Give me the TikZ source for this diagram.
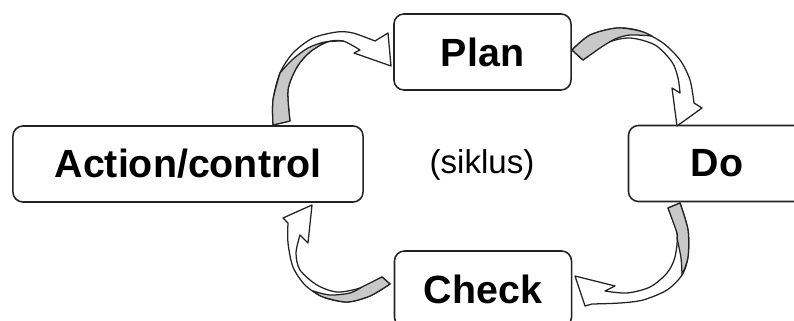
\documentclass[tikz,border=0pt]{standalone}
\usepackage[rgb]{xcolor}
\usepackage{fontspec}
\setmainfont{Liberation Sans}
\usepackage{tikz}
\definecolor{bandgray}{RGB}{200,200,200}
\definecolor{edgegray}{RGB}{35,35,35}

\begin{document}
\begin{tikzpicture}[x=0.025cm, y=-0.025cm,
  box/.style={draw=edgegray, line width=1.1pt, rounded corners=0.25cm, fill=white,
    minimum width=4.425cm, minimum height=1.9cm, inner sep=0pt,
    font=\bfseries\fontsize{28}{30}\selectfont},
  band/.style={draw=edgegray, line width=0.9pt, fill=white, line join=round},
  shade/.style={draw=edgegray, line width=0.9pt, fill=bandgray, line join=round}]

\useasboundingbox (0,0) rectangle (794,321);
\clip (0,0) rectangle (794,321);

\path
(482.5,52) node[box](plan) {Plan}
(717,163.5) node[box](do) {Do}
(188,164) node[box, minimum width=8.75cm](action) {Action/control}
(483,289) node[box](check) {Check}
(482,165) node[font=\fontsize{23.5}{26}\selectfont](siklus) {(siklus)};

%% curved arrow from Action/control up to Plan
\filldraw[band] plot[smooth] coordinates {(273,125) (273,100) (280,73) (293,53) (313,38) (337,32) (353,33) (375,41)}
 -- (388,33) -- (391,66) -- (354,53)
 -- plot[smooth] coordinates {(360,50) (343,41) (327,42) (310,52) (297,67) (288,90) (290,121)} -- cycle;
\filldraw[shade] plot[smooth] coordinates {(273,125) (273,100) (280,73)}
 -- plot[smooth] coordinates {(280,73) (292,60) (308,48) (325,42) (343,41)}
 -- plot[smooth] coordinates {(343,41) (327,42) (310,52) (297,67) (288,90) (290,121)} -- cycle;

%% curved arrow from Plan down to Do
\filldraw[band] plot[smooth] coordinates {(572,50) (590,35) (617,28) (640,31) (663,43) (680,60) (690,80) (694,103)}
 -- (702,108) -- (677,126) -- (672,88)
 -- plot[smooth] coordinates {(680,93) (678,78) (672,62) (655,45) (630,38) (607,43) (583,60)} -- cycle;
\filldraw[shade] plot[smooth] coordinates {(572,50) (590,35) (617,28) (640,31) (652,36)}
 -- plot[smooth] coordinates {(652,36) (630,35) (615,39) (600,48)}
 -- (583,60) -- cycle;

%% curved arrow from Do down to Check
\filldraw[band] plot[smooth] coordinates {(680,203) (688,230) (688,257) (682,275) (667,290) (643,300) (620,303) (592,304)}
 -- (585,306) -- (575,276) -- (615,286)
 -- plot[smooth] coordinates {(605,291) (627,293) (650,287) (667,273) (675,257) (677,233) (668,208)} -- cycle;
\filldraw[shade] plot[smooth] coordinates {(680,203) (688,230) (688,257) (682,275)}
 -- plot[smooth] coordinates {(682,275) (681,258) (677,238)}
 -- plot[smooth] coordinates {(677,238) (677,233) (668,208)} -- cycle;

%% curved arrow from Check back to Action/control
\filldraw[band] plot[smooth] coordinates {(390,284) (370,296) (347,302) (323,297) (305,285) (293,267) (288,243) (288,223)}
 -- (283,218) -- (312,205) -- (308,243)
 -- plot[smooth] coordinates {(300,235) (296,253) (300,270) (317,285) (337,292) (360,288) (382,277)} -- cycle;
\filldraw[shade] plot[smooth] coordinates {(390,284) (370,296) (347,302) (323,297) (313,291)}
 -- plot[smooth] coordinates {(313,291) (330,295) (350,293) (362,287)}
 -- (382,277) -- cycle;

\end{tikzpicture}
\end{document}
